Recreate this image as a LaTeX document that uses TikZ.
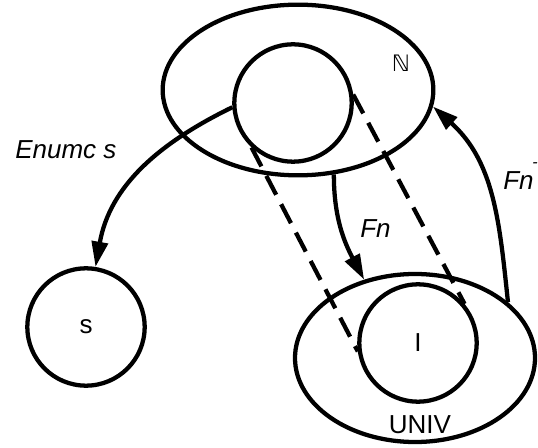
\documentclass[tikz,border=0pt]{standalone}
\usepackage{fontspec}
\setmainfont{Liberation Sans}
\newfontfamily\symfont{DejaVu Sans}
\usetikzlibrary{shapes.geometric,arrows.meta}
\begin{document}
\begin{tikzpicture}[x=0.75pt,y=0.75pt,
  every node/.style={font=\fontsize{19.5}{23}\selectfont},
  setshape/.style={draw,line width=3.2pt,ellipse,inner sep=0pt},
  circ/.style={draw,line width=3.2pt,circle,inner sep=0pt,minimum size=88pt},
  arr/.style={line width=3.2pt,-{Triangle[length=19pt,width=12pt]}},
  dsh/.style={line width=3.2pt,dash pattern=on 16pt off 8pt},
  lbl/.style={inner sep=0pt}]
\useasboundingbox (0,0) rectangle (538,-448);
\node[setshape,minimum width=203pt,minimum height=128pt] (N) at (298,-90) {};
\node[circ] (top) at (293,-103) {};
\node[circ] (S) at (86,-327) {s};
\node[setshape,minimum width=180pt,minimum height=126pt] (U) at (415,-358) {};
\node[circ] (I) at (418,-343) {I};
\node[lbl,anchor=base] (nlab) at (401,-72) {\symfont\fontsize{17}{20}\selectfont ℕ};
\node[lbl,anchor=base] (ulab) at (420,-433) {UNIV};
\node[lbl,anchor=base west] (enum) at (15,-159) {\itshape Enumc s};
\node[lbl,anchor=base west] (fn) at (360,-238) {\itshape Fn};
\node[lbl,anchor=base west] (fni) at (503,-190) {\itshape Fn\kern-1pt\raisebox{0.85em}{\fontsize{12}{12}\selectfont -}};
\draw[dsh] (top.227) -- (I.188);
\draw[dsh] (top.8) -- (I.40);
\draw[arr] (top.184) to[out=206,in=80] (S.81);
\draw[arr] (N.293) to[out=270,in=118] (U.123);
\draw[arr] (U.31) to[out=96,in=318] (N.353);
\end{tikzpicture}
\end{document}
